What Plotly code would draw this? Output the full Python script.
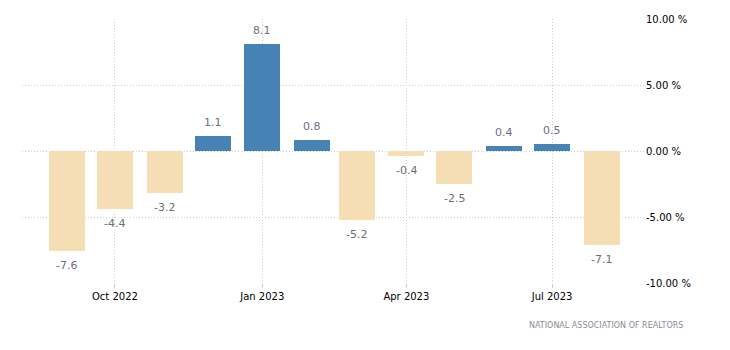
import plotly.graph_objects as go

months = ["2022-09-01", "2022-10-01", "2022-11-01", "2022-12-01", "2023-01-01", "2023-02-01",
          "2023-03-01", "2023-04-01", "2023-05-01", "2023-06-01", "2023-07-01", "2023-08-01"]
values = [-7.6, -4.4, -3.2, 1.1, 8.1, 0.8, -5.2, -0.4, -2.5, 0.4, 0.5, -7.1]
y_ticks = [-10, -5, 0, 5, 10]
source = "NATIONAL ASSOCIATION OF REALTORS"

BLUE = "#4682b4"
WHEAT = "#f5deb3"
colors = [BLUE if v >= 0 else WHEAT for v in values]
DAY = 86400000

fig = go.Figure()
fig.add_trace(go.Bar(x=months, y=values, marker=dict(color=colors, line=dict(width=0)),
                     width=[22.5 * DAY] * len(values), hoverinfo="x+y"))

for m, v in zip(months, values):
    fig.add_annotation(x=m, y=v, text=f"{v:.1f}", showarrow=False,
                       yanchor="bottom" if v >= 0 else "top",
                       yshift=5 if v >= 0 else -6,
                       font=dict(family="DejaVu Sans", size=11, color="#6e6e7a"))

fig.add_annotation(text=source, xref="paper", yref="paper", x=1.0 + 40 / 623, y=-0.16,
                   xanchor="right", yanchor="middle", showarrow=False,
                   font=dict(family="DejaVu Sans", size=8, color="#8a8a96"))

fig.update_layout(
    width=730, height=350,
    margin=dict(l=22, r=85, t=19, b=67),
    paper_bgcolor="white", plot_bgcolor="white",
    showlegend=False, bargap=0,
    font=dict(family="DejaVu Sans", size=10, color="black"),
)
fig.update_xaxes(type="date", range=["2022-08-04", "2023-08-28"],
                 tick0="2022-10-01", dtick="M3", tickformat="%b %Y",
                 showgrid=True, gridcolor="#cccccc", griddash="1px,2px", gridwidth=1,
                 ticks="outside", ticklen=4, tickcolor="#cccccc",
                 showline=False, zeroline=False,
                 tickfont=dict(family="DejaVu Sans", size=10, color="black"))
fig.update_yaxes(range=[-10, 10], side="right", tickmode="array", tickvals=y_ticks,
                 ticktext=[f"{t:.2f} %" for t in y_ticks],
                 showgrid=True, gridcolor="#cccccc", griddash="1px,2px", gridwidth=1,
                 zeroline=False, showline=False, ticks="",
                 tickfont=dict(family="DejaVu Sans", size=10, color="black"))

fig.write_html("out.html")
